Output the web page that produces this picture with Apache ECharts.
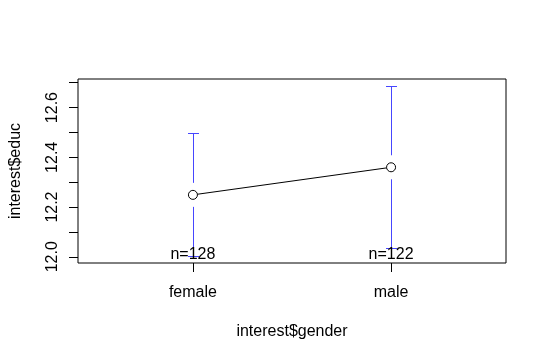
<!DOCTYPE html>
<html>
<head>
<meta charset="utf-8">
<script src="https://cdn.jsdelivr.net/npm/echarts@6/dist/echarts.min.js"></script>
<style>
html,body{margin:0;padding:0;background:#fff;}
#chart{width:547px;height:361px;}
</style>
</head>
<body>
<div id="chart"></div>
<script>
// ---- data ----
const categories = ['female', 'male'];
const means = [12.249, 12.360];
const ciLower = [12.003, 12.035];
const ciUpper = [12.496, 12.687];
const counts = [128, 122];
const yTicks = [12.0, 12.1, 12.2, 12.3, 12.4, 12.5, 12.6, 12.7];
const yLabels = [12.0, 12.2, 12.4, 12.6];
const xTicks = [1, 2];
const xTitle = 'interest$gender';
const yTitle = 'interest$educ';

const FONT = 'Liberation Sans, Arial, Helvetica, sans-serif';
const yMin = 11.975, yMax = 12.715;

const chart = echarts.init(document.getElementById('chart'), null, {renderer: 'canvas'});

const barData = categories.map((c, i) => [i + 1, ciLower[i], ciUpper[i], means[i]]);
const meanData = categories.map((c, i) => [i + 1, means[i]]);
const nData = categories.map((c, i) => [i + 1, counts[i]]);

const crisp = v => Math.round(v) + 0.5;

const option = {
  animation: false,
  backgroundColor: '#fff',
  grid: {
    left: 78, top: 79, width: 428, height: 184,
    show: true, borderColor: '#000', borderWidth: 1, backgroundColor: 'transparent'
  },
  xAxis: {
    type: 'value', min: 0.42, max: 2.58,
    axisLine: {show: false},
    splitLine: {show: false},
    axisTick: {show: true, customValues: xTicks, length: 9, lineStyle: {color: '#000', width: 1}},
    axisLabel: {
      customValues: xTicks, margin: 22,
      formatter: v => categories[Math.round(v) - 1],
      color: '#000', fontSize: 16, fontFamily: FONT
    },
    name: xTitle, nameLocation: 'middle', nameGap: 61,
    nameTextStyle: {color: '#000', fontSize: 16, fontFamily: FONT}
  },
  yAxis: {
    type: 'value', min: yMin, max: yMax,
    axisLine: {show: false},
    splitLine: {show: false},
    axisTick: {show: true, customValues: yTicks, length: 9, lineStyle: {color: '#000', width: 1}},
    axisLabel: {
      customValues: yLabels, rotate: 90, margin: 17,
      formatter: v => Number(v).toFixed(1),
      color: '#000', fontSize: 16, fontFamily: FONT
    },
    name: yTitle, nameLocation: 'middle', nameGap: 54,
    nameTextStyle: {color: '#000', fontSize: 16, fontFamily: FONT}
  },
  series: [
    {
      type: 'custom',
      data: barData,
      encode: {x: 0, y: [1, 2, 3]},
      z: 2,
      renderItem: function (params, api) {
        const x = api.value(0);
        const lo = api.coord([x, api.value(1)]);
        const hi = api.coord([x, api.value(2)]);
        const mid = api.coord([x, api.value(3)]);
        const gap = 12, cap = 5.5;
        const cx = crisp(hi[0]);
        const yh = crisp(hi[1]), yl = crisp(lo[1]);
        const st = {stroke: '#4646ff', lineWidth: 1, fill: null};
        return {
          type: 'group',
          children: [
            {type: 'line', shape: {x1: cx - cap, y1: yh, x2: cx + cap, y2: yh}, style: st},
            {type: 'line', shape: {x1: cx, y1: yh, x2: cx, y2: mid[1] - gap}, style: st},
            {type: 'line', shape: {x1: cx, y1: mid[1] + gap, x2: cx, y2: yl}, style: st},
            {type: 'line', shape: {x1: cx - cap, y1: yl, x2: cx + cap, y2: yl}, style: st}
          ]
        };
      }
    },
    {
      type: 'line',
      data: meanData,
      symbol: 'circle',
      symbolSize: 9,
      z: 3,
      lineStyle: {color: '#000', width: 1},
      itemStyle: {color: '#fff', borderColor: '#000', borderWidth: 1}
    },
    {
      type: 'custom',
      data: nData,
      z: 4,
      renderItem: function (params, api) {
        const x = api.value(0);
        const p = api.coord([x, yMin]);
        return {
          type: 'text',
          x: p[0], y: p[1],
          style: {
            text: 'n=' + api.value(1),
            x: 0, y: 0,
            align: 'center', verticalAlign: 'bottom',
            fill: '#000', fontSize: 16, fontFamily: FONT
          }
        };
      }
    }
  ]
};
chart.setOption(option);
</script>
</body>
</html>
